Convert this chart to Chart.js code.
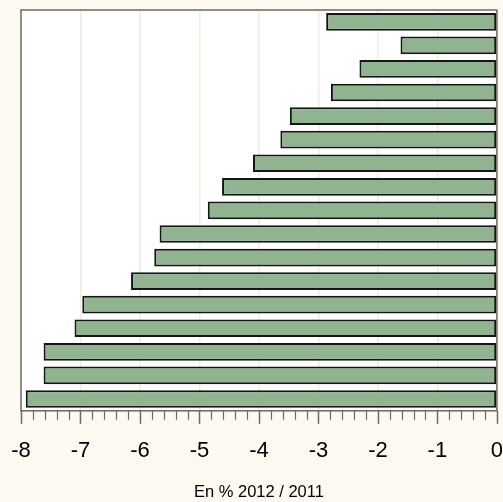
<!DOCTYPE html>
<html>
<head>
<meta charset="utf-8">
<script src="https://cdn.jsdelivr.net/npm/chart.js@4"></script>
<style>
  html, body { margin: 0; padding: 0; background: #fcf9f1; }
  #wrap { width: 503px; height: 502px; position: relative; }
</style>
</head>
<body>
<div id="wrap"><canvas id="c" width="503" height="502"></canvas></div>
<script>
const categories = ['1','2','3','4','5','6','7','8','9','10','11','12','13','14','15','16','17'];
const values = [-2.87, -1.62, -2.31, -2.79, -3.48, -3.64, -4.10, -4.62, -4.86, -5.67, -5.76, -6.15, -6.97, -7.10, -7.62, -7.62, -7.92];
const tickValues = [-8, -7, -6, -5, -4, -3, -2, -1, 0];
const axisTitle = 'En % 2012 / 2011';

const plotDecor = {
  id: 'plotDecor',
  beforeDraw(chart) {
    const { ctx, chartArea: a } = chart;
    ctx.save();
    ctx.fillStyle = '#ffffff';
    ctx.fillRect(a.left, a.top, a.right - a.left, a.bottom - a.top);
    ctx.restore();
  },
  afterDraw(chart) {
    const { ctx, chartArea: a } = chart;
    const xs = chart.scales.x;
    ctx.save();
    ctx.strokeStyle = '#6b6b60';
    for (let i = 0; i < tickValues.length; i++) {
      const pm = Math.round(xs.getPixelForValue(tickValues[i])) + 0.5;
      ctx.lineWidth = 1.5;
      ctx.beginPath();
      ctx.moveTo(pm, a.bottom);
      ctx.lineTo(pm, a.bottom + 13);
      ctx.stroke();
      if (i === tickValues.length - 1) break;
      ctx.lineWidth = 1.2;
      for (let k = 1; k < 5; k++) {
        const v = tickValues[i] + k * (tickValues[i + 1] - tickValues[i]) / 5;
        const px = Math.round(xs.getPixelForValue(v)) + 0.5;
        ctx.beginPath();
        ctx.moveTo(px, a.bottom);
        ctx.lineTo(px, a.bottom + 9);
        ctx.stroke();
      }
    }
    ctx.lineWidth = 1.5;
    ctx.strokeRect(a.left, a.top, a.right - a.left, a.bottom - a.top);
    ctx.restore();
  }
};

new Chart(document.getElementById('c'), {
  type: 'bar',
  data: {
    labels: categories,
    datasets: [{
      data: values,
      backgroundColor: '#8fb48f',
      borderColor: '#151515',
      borderWidth: 2,
      borderSkipped: false,
      barPercentage: 0.75,
      categoryPercentage: 1.0
    }]
  },
  options: {
    indexAxis: 'y',
    responsive: false,
    animation: false,
    devicePixelRatio: 1,
    layout: { padding: { left: 21, right: 6, top: 10, bottom: 0 } },
    plugins: { legend: { display: false }, tooltip: { enabled: false } },
    scales: {
      x: {
        min: -8,
        max: 0,
        afterBuildTicks(scale) { scale.ticks = tickValues.map(v => ({ value: v })); },
        border: { display: false },
        grid: {
          color: '#eeeddf',
          lineWidth: 1.5,
          drawTicks: true,
          tickLength: 27,
          tickColor: 'rgba(0,0,0,0)'
        },
        ticks: {
          color: '#000000',
          padding: 0,
          maxRotation: 0,
          font: { family: 'Liberation Sans, Arial, sans-serif', size: 22 }
        },
        title: {
          display: true,
          text: axisTitle,
          color: '#000000',
          padding: { top: 18, bottom: 0 },
          font: { family: 'Liberation Sans, Arial, sans-serif', size: 16.5 }
        }
      },
      y: {
        display: false,
        grid: { display: false }
      }
    }
  },
  plugins: [plotDecor]
});
</script>
</body>
</html>
